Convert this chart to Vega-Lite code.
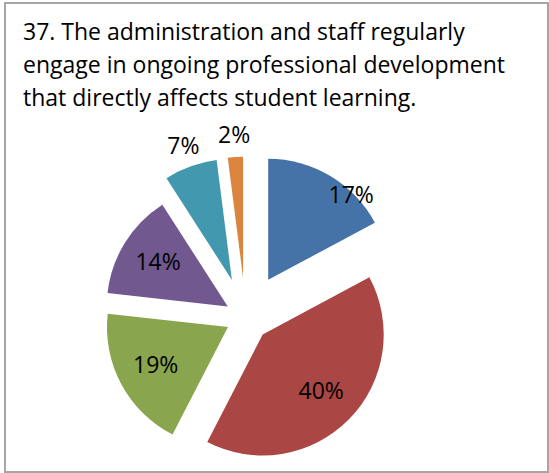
{
  "$schema": "https://vega.github.io/schema/vega-lite/v6.json",
  "width": 543,
  "height": 469,
  "autosize": "none",
  "padding": {"left": 5, "top": 3, "right": 1, "bottom": 1},
  "background": "white",
  "view": {"stroke": "#a6a6a6", "strokeWidth": 2, "fill": "white"},
  "title": {
    "text": ["37. The administration and staff regularly", "engage in ongoing professional development", "that directly affects student learning."],
    "anchor": "start",
    "orient": "top",
    "frame": "group",
    "offset": -108,
    "dx": 18,
    "font": "Open Sans",
    "fontSize": 23,
    "fontWeight": "normal",
    "color": "#000000",
    "lineHeight": 33
  },
  "data": {
    "values": [
      {"id": 1, "share": 0.17},
      {"id": 2, "share": 0.40},
      {"id": 3, "share": 0.19},
      {"id": 4, "share": 0.14},
      {"id": 5, "share": 0.07},
      {"id": 6, "share": 0.02}
    ]
  },
  "encoding": {
    "theta": {"field": "share", "type": "quantitative", "stack": true},
    "order": {"field": "id", "type": "quantitative"}
  },
  "layer": [
    {
      "mark": {
        "type": "arc",
        "outerRadius": 121,
        "x": {"expr": "240.6 + [0,44,24,20,21,40,40][datum.id] * sin((scale('theta', datum.share_start) + scale('theta', datum.share_end)) / 2)"},
        "y": {"expr": "314.6 - [0,44,24,20,21,40,40][datum.id] * cos((scale('theta', datum.share_start) + scale('theta', datum.share_end)) / 2)"}
      },
      "encoding": {
        "color": {
          "field": "id",
          "type": "nominal",
          "scale": {"domain": [1, 2, 3, 4, 5, 6], "range": ["#4572A7", "#AA4643", "#89A54E", "#71588F", "#4198AF", "#DB843D"]},
          "legend": null
        }
      }
    },
    {
      "mark": {
        "type": "text",
        "font": "Open Sans",
        "fontSize": 23,
        "color": "#000000",
        "radius": {"expr": "datum.share < 0.1 ? 142 : (datum.id == 1 ? 105 : 82)"},
        "dx": {"expr": "datum.id == 1 ? 29 : 0"},
        "dy": {"expr": "datum.id == 1 ? 6 : 0"},
        "x": {"expr": "240.6 + [0,44,24,20,21,40,40][datum.id] * sin((scale('theta', datum.share_start) + scale('theta', datum.share_end)) / 2)"},
        "y": {"expr": "314.6 - [0,44,24,20,21,40,40][datum.id] * cos((scale('theta', datum.share_start) + scale('theta', datum.share_end)) / 2)"}
      },
      "encoding": {
        "text": {"field": "share", "type": "quantitative", "format": ".0%"}
      }
    }
  ]
}
